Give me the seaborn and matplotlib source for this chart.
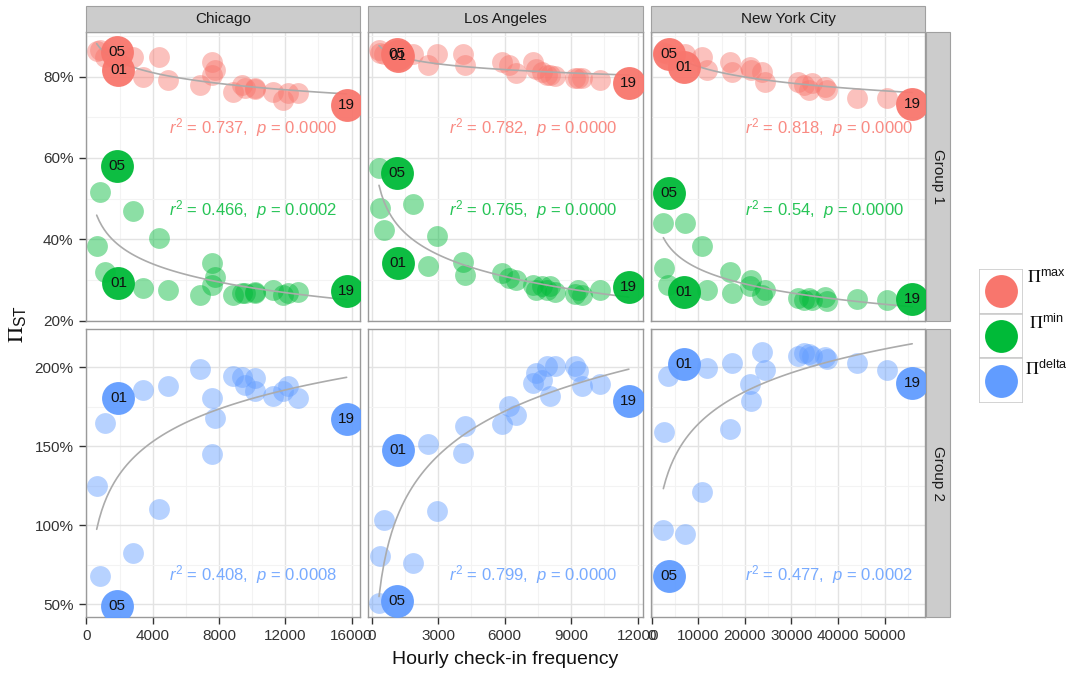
import numpy as np
import pandas as pd
import matplotlib
matplotlib.use("Agg")
import matplotlib.pyplot as plt
from matplotlib.patches import Rectangle
from matplotlib.ticker import MultipleLocator, FuncFormatter
import seaborn as sns

sns.set_theme(style="white")
plt.rcParams['font.family'] = ['Liberation Sans', 'DejaVu Sans']
plt.rcParams['mathtext.fontset'] = 'custom'
plt.rcParams['mathtext.it'] = 'Liberation Sans:italic'
plt.rcParams['mathtext.rm'] = 'Liberation Sans'
plt.rcParams['mathtext.sf'] = 'Liberation Sans'

# ---------------- data ----------------
cities = ['Chicago', 'Los Angeles', 'New York City']
groups = ['Group 1', 'Group 2']
measures = ['max', 'min', 'delta']
colors = {'max': '#F8766D', 'min': '#00BA38', 'delta': '#619CFF'}

chi_x = [620, 820, 1150, 1830, 1930, 2830, 3430, 4380, 4940, 6850, 7560, 7600,
         7760, 8870, 9370, 9570, 10170, 10200, 11280, 11880, 12180, 12790, 15700]
chi_max = [86.3, 86.5, 84.8, 86.1, 81.6, 84.9, 80.0, 84.9, 79.2, 78.0, 83.7, 80.5,
           81.6, 76.3, 78.0, 77.2, 77.1, 77.0, 76.3, 74.3, 75.9, 75.9, 73.0]
chi_min = [38.4, 51.7, 32.0, 58.1, 29.2, 47.0, 28.0, 40.2, 27.5, 26.3, 34.1, 28.7,
           30.8, 26.3, 26.7, 26.7, 26.7, 27.0, 27.5, 26.3, 26.7, 27.1, 27.3]
chi_delta = [124.7, 68.1, 164.8, 49.2, 180.6, 82.5, 185.9, 110.5, 188.0, 198.9, 145.1, 180.6,
             167.9, 194.3, 193.9, 189.0, 193.2, 184.8, 182.1, 184.8, 188.0, 180.6, 167.3]
chi_lab = ['', '', '', '05', '01', '', '', '', '', '', '', '',
           '', '', '', '', '', '', '', '', '', '', '19']

la_x = [330, 390, 570, 1150, 1200, 1880, 2555, 2930, 4130, 4220, 5900, 6200,
        6500, 7290, 7400, 7670, 7890, 8040, 8270, 9170, 9300, 9470, 10300, 11600]
la_max = [86.6, 85.9, 85.5, 85.6, 85.2, 85.7, 82.9, 85.6, 85.7, 82.9, 83.7, 82.9,
          80.8, 83.7, 82.0, 81.2, 80.4, 80.4, 80.2, 79.6, 79.8, 79.6, 79.2, 78.4]
la_min = [57.5, 47.6, 42.3, 56.2, 34.1, 48.7, 33.3, 40.7, 34.5, 31.2, 31.6, 30.4,
          30.0, 28.8, 27.5, 28.4, 27.5, 28.4, 27.0, 26.6, 27.5, 26.3, 27.5, 28.2]
la_delta = [50.8, 80.8, 103.6, 51.9, 147.9, 76.2, 151.7, 108.9, 145.8, 163.1, 164.3, 175.7,
            170.0, 190.1, 196.4, 192.2, 200.6, 181.6, 200.6, 200.6, 197.5, 188.0, 189.5, 178.9]
la_lab = ['', '', '', '05', '01', '', '', '', '', '', '', '',
          '', '', '', '', '', '', '', '', '', '', '', '19']

ny_x = [2500, 2650, 3570, 3700, 6950, 7150, 10720, 11790, 16900, 17160, 21100, 21300,
        23600, 24300, 31500, 32700, 33700, 34300, 37200, 37700, 44000, 50600, 55900]
ny_max = [86.0, 85.8, 85.5, 85.7, 82.5, 85.5, 84.9, 81.6, 83.7, 81.2, 82.5, 81.6,
          81.2, 78.8, 78.8, 78.0, 76.7, 78.4, 77.5, 76.7, 74.7, 74.7, 73.4]
ny_min = [43.9, 32.9, 28.8, 51.3, 27.1, 43.9, 38.4, 27.5, 32.0, 26.7, 28.4, 30.0,
          26.3, 27.5, 25.5, 25.1, 25.5, 25.1, 25.9, 24.7, 25.3, 25.1, 25.3]
ny_delta = [96.8, 158.9, 194.3, 67.7, 202.1, 94.7, 121.1, 199.6, 161.2, 202.7, 189.7, 178.9,
            209.7, 198.1, 207.4, 209.1, 208.4, 207.4, 206.5, 205.3, 202.7, 198.5, 190.1]
ny_lab = ['', '', '', '05', '01', '', '', '', '', '', '', '',
          '', '', '', '', '', '', '', '', '', '', '19']

# r^2 and p annotations per city, in the order max, min, delta
stats_r2 = {'Chicago': ['0.737', '0.466', '0.408'],
            'Los Angeles': ['0.782', '0.765', '0.799'],
            'New York City': ['0.818', '0.54', '0.477']}
stats_p = {'Chicago': ['0.0000', '0.0002', '0.0008'],
           'Los Angeles': ['0.0000', '0.0000', '0.0000'],
           'New York City': ['0.0000', '0.0000', '0.0002']}

x_major = {'Chicago': 4000, 'Los Angeles': 3000, 'New York City': 10000}
x_lims = {'Chicago': (-24, 16507), 'Los Angeles': (-167, 12239), 'New York City': (-150, 58648)}
y_lims = {'Group 1': (20, 91.0), 'Group 2': (42, 224.3)}
y_major = {'Group 1': 20, 'Group 2': 50}

# build long table
frames = []
for city, xs, mx, mn, dl, lb in [
        ('Chicago', chi_x, chi_max, chi_min, chi_delta, chi_lab),
        ('Los Angeles', la_x, la_max, la_min, la_delta, la_lab),
        ('New York City', ny_x, ny_max, ny_min, ny_delta, ny_lab)]:
    for m, vals in zip(measures, [mx, mn, dl]):
        frames.append(pd.DataFrame({'city': city, 'x': xs, 'measure': m,
                                    'value': vals, 'label': lb}))
df = pd.concat(frames, ignore_index=True)

# ---------------- layout ----------------
W, H = 1066, 673
fig = plt.figure(figsize=(W / 100, H / 100), dpi=100)
fig.patch.set_facecolor('white')

col_px = [(86, 360), (368, 643), (651, 925)]
row_px = [(32, 320.5), (329, 617)]
row_measures = {'Group 1': ['max', 'min'], 'Group 2': ['delta']}
text_left = {'Chicago': 0.304, 'Los Angeles': 0.293, 'New York City': 0.343}
text_base = {'max': 0.648, 'min': 0.365, 'delta': 0.127}


def fx(px):
    return px / W


def fy(py):
    return 1 - py / H


pct = FuncFormatter(lambda v, pos: f"{v:.0f}%")

for ri, grp in enumerate(groups):
    y0, y1 = row_px[ri]
    for ci, city in enumerate(cities):
        x0, x1 = col_px[ci]
        ax = fig.add_axes([fx(x0), fy(y1), (x1 - x0) / W, (y1 - y0) / H])
        ax.set_facecolor('white')
        for m in row_measures[grp]:
            sub = df[(df.city == city) & (df.measure == m)]
            small = sub[sub.label == '']
            big = sub[sub.label != '']
            sns.scatterplot(data=small, x='x', y='value', color=colors[m], alpha=0.45,
                            s=225, linewidth=0, ax=ax, legend=False, zorder=2)
            sns.regplot(data=sub, x='x', y='value', logx=True, scatter=False, ci=None,
                        color='#ABABAB', line_kws=dict(lw=1.2, zorder=3), ax=ax)
            sns.scatterplot(data=big, x='x', y='value', color=colors[m], alpha=0.95,
                            s=560, linewidth=0, ax=ax, legend=False, zorder=4)
            for _, r in big.iterrows():
                ax.text(r.x, r.value, r.label, ha='center', va='center', fontsize=11,
                        color='#111111', zorder=5)
            k = measures.index(m)
            ax.text(text_left[city], text_base[m],
                    rf"$r^2$ = {stats_r2[city][k]},  $p$ = {stats_p[city][k]}",
                    transform=ax.transAxes, ha='left', va='baseline', fontsize=12,
                    color=colors[m], alpha=0.85, zorder=6)
        ax.set_xlim(*x_lims[city])
        ax.set_ylim(*y_lims[grp])
        ax.xaxis.set_major_locator(MultipleLocator(x_major[city]))
        ax.xaxis.set_minor_locator(MultipleLocator(x_major[city] / 2))
        ax.yaxis.set_major_locator(MultipleLocator(y_major[grp]))
        ax.yaxis.set_minor_locator(MultipleLocator(y_major[grp] / 2))
        ax.yaxis.set_major_formatter(pct)
        ax.xaxis.set_major_formatter(FuncFormatter(lambda v, pos: f"{v:.0f}"))
        ax.grid(which='major', color='#E3E3E3', lw=1.0)
        ax.grid(which='minor', color='#F3F3F3', lw=0.8)
        ax.set_axisbelow(True)
        for s in ax.spines.values():
            s.set_color('#9A9A9A')
            s.set_linewidth(1.0)
        ax.set_xlabel('')
        ax.set_ylabel('')
        ax.tick_params(which='both', direction='out', length=0, width=1,
                       color='#333333', labelcolor='#333333', labelsize=11, pad=4)
        ax.tick_params(which='minor', length=0)
        ax.tick_params(axis='x', bottom=(ri == 1), labelbottom=(ri == 1),
                       length=(5 if ri == 1 else 0))
        ax.tick_params(axis='y', left=(ci == 0), labelleft=(ci == 0),
                       length=(5 if ci == 0 else 0))

# strips
for ci, city in enumerate(cities):
    x0, x1 = col_px[ci]
    fig.patches.append(Rectangle((fx(x0), fy(32)), (x1 - x0) / W, 26 / H,
                                 transform=fig.transFigure, facecolor='#CCCCCC',
                                 edgecolor='#A0A0A0', lw=0.8, zorder=0))
    fig.text(fx((x0 + x1) / 2), fy(19), city, ha='center', va='center',
             fontsize=11, color='#1A1A1A')
for ri, grp in enumerate(groups):
    y0, y1 = row_px[ri]
    fig.patches.append(Rectangle((fx(926), fy(y1)), 24 / W, (y1 - y0) / H,
                                 transform=fig.transFigure, facecolor='#CCCCCC',
                                 edgecolor='#A0A0A0', lw=0.8, zorder=0))
    fig.text(fx(938), fy((y0 + y1) / 2), grp, ha='center', va='center',
             rotation=270, fontsize=11, color='#1A1A1A')

# axis titles
fig.text(fx(505.5), fy(660), 'Hourly check-in frequency', ha='center', va='center',
         fontsize=14, color='#111111')
fig.text(fx(17), fy(324.5), r'$\Pi_{\mathregular{ST}}$', ha='center', va='center',
         rotation=90, fontsize=16, color='#111111', math_fontfamily='stix')

# legend
lax = fig.add_axes([fx(979), fy(403), 44 / W, 134 / H])
lax.set_xlim(0, 1)
lax.set_ylim(0, 3)
lax.axis('off')
leg_labels = [r'$\Pi^{\mathregular{max}}$', r'$\Pi^{\mathregular{min}}$',
              r'$\Pi^{\mathregular{delta}}$']
for i, m in enumerate(measures):
    yy = 2 - i
    lax.add_patch(Rectangle((0, yy), 1, 1, facecolor='white', edgecolor='#CCCCCC', lw=1.2))
    lax.scatter([0.5], [yy + 0.5], s=560, color=colors[m], linewidth=0, zorder=3)
    fig.text(fx(1046), fy(278 + 45.5 * i), leg_labels[i], ha='center', va='center',
             fontsize=13, color='#111111', math_fontfamily='stix')

fig.savefig('out.png', dpi=100, facecolor='white')
